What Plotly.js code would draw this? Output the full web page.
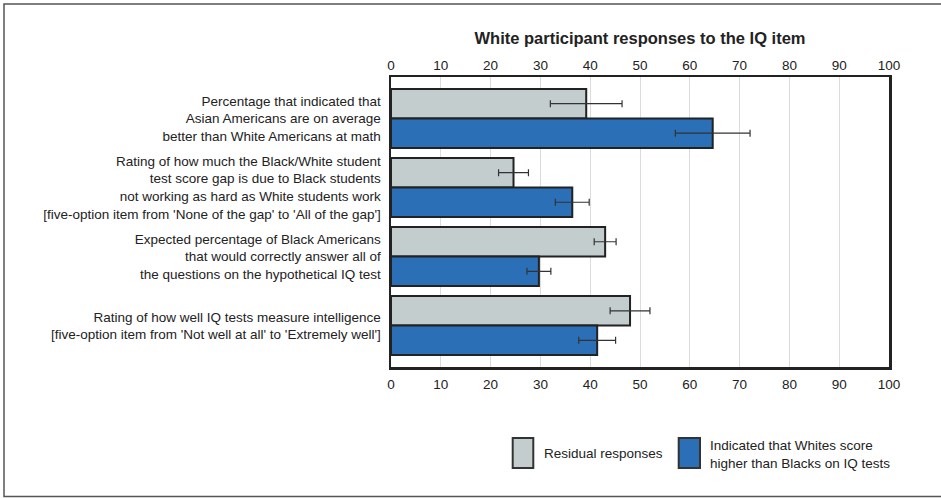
<!DOCTYPE html>
<html>
<head>
<meta charset="utf-8">
<script src="https://cdn.plot.ly/plotly-3.0.1.min.js"></script>
<style>html,body{margin:0;padding:0;background:#fff;}#chart{width:941px;height:498px;}</style>
</head>
<body>
<div id="chart"></div>
<script>
// ---- data ----
const categories = [
  "Percentage that indicated that<br>Asian Americans are on average<br>better than White Americans at math",
  "Rating of how much the Black/White student<br>test score gap is due to Black students<br>not working as hard as White students work<br>[five-option item from 'None of the gap' to 'All of the gap']",
  "Expected percentage of Black Americans<br>that would correctly answer all of<br>the questions on the hypothetical IQ test",
  "Rating of how well IQ tests measure intelligence<br>[five-option item from 'Not well at all' to 'Extremely well']"
];
const residualValues = [39.2, 24.6, 43.0, 48.0];
const residualErrors = [7.2, 3.0, 2.2, 4.0];
const whitesHigherValues = [64.6, 36.4, 29.7, 41.4];
const whitesHigherErrors = [7.5, 3.4, 2.4, 3.7];
const seriesNames = ["Residual responses", "Indicated that Whites score<br>higher than Blacks on IQ tests"];
const tickValues = [0, 10, 20, 30, 40, 50, 60, 70, 80, 90, 100];
const chartTitle = "White participant responses to the IQ item";

const grayFill = "#c3cdcd";
const blueFill = "#2b6fb6";
const outline = "#222222";
const font = "Liberation Sans, Arial, sans-serif";
const fs = 13.5;

const errStyle = {type: "data", visible: true, color: "#333", thickness: 1.2, width: 3.5};

const traces = [
  {
    type: "bar", orientation: "h", name: seriesNames[0],
    y: categories, x: residualValues,
    error_x: Object.assign({array: residualErrors}, errStyle),
    marker: {color: grayFill, line: {color: outline, width: 2}},
    hoverinfo: "x"
  },
  {
    type: "bar", orientation: "h", name: seriesNames[1],
    y: categories, x: whitesHigherValues,
    error_x: Object.assign({array: whitesHigherErrors}, errStyle),
    marker: {color: blueFill, line: {color: outline, width: 2}},
    hoverinfo: "x"
  },
  {
    type: "scatter", mode: "none", x: [0, 100], y: [categories[0], categories[0]],
    xaxis: "x2", yaxis: "y", hoverinfo: "skip", showlegend: false
  }
];

// paper-coordinate helpers for legend + outer frame
const L = 391, R = 52, T = 77, B = 131, W = 941, H = 498;
const pw = W - L - R, ph = H - T - B;
const px = v => (v - L) / pw;
const py = v => (H - B - v) / ph;

const xCommon = {
  range: [0, 100], tickvals: tickValues, ticktext: tickValues.map(String),
  tickfont: {family: font, size: fs, color: "#222"},
  ticks: "outside", tickcolor: "rgba(0,0,0,0)",
  zeroline: false, fixedrange: true
};

const layout = {
  width: W, height: H,
  margin: {l: L, r: R, t: T, b: B, pad: 0},
  paper_bgcolor: "#fff", plot_bgcolor: "#fff",
  font: {family: font, size: fs, color: "#222"},
  title: {text: "<b>" + chartTitle + "</b>", font: {family: font, size: 16.5, color: "#222"},
          x: 0.5 * (L + (W - R)) / W, xanchor: "center", y: 1 - 38 / H, yanchor: "middle"},
  showlegend: false,
  barmode: "group", bargap: 0.145, bargroupgap: 0,
  xaxis: Object.assign({}, xCommon, {
    side: "bottom", ticklen: 3, showgrid: true, gridcolor: "#dcdcdc", gridwidth: 1,
    showline: true, mirror: true, linecolor: "#222", linewidth: 2.5
  }),
  xaxis2: Object.assign({}, xCommon, {
    side: "top", ticklen: 1, overlaying: "x", showgrid: false, showline: false, matches: "x"
  }),
  yaxis: {
    type: "category", range: [3.6, -0.6], autorange: false,
    tickfont: {family: font, size: fs, color: "#222"},
    ticks: "outside", ticklen: 5, tickcolor: "rgba(0,0,0,0)",
    showgrid: false, showline: true, linecolor: "#222", linewidth: 2.5, mirror: true,
    fixedrange: true
  },
  shapes: [
    {type: "rect", xref: "paper", yref: "paper", x0: px(4), x1: px(945), y0: py(496.5), y1: py(4),
     line: {color: "#555", width: 1.5}, fillcolor: "rgba(0,0,0,0)", layer: "below"},
    {type: "rect", xref: "paper", yref: "paper", x0: px(512.7), x1: px(533.3), y0: py(468), y1: py(438),
     line: {color: "#333", width: 2}, fillcolor: grayFill},
    {type: "rect", xref: "paper", yref: "paper", x0: px(678.7), x1: px(700), y0: py(468), y1: py(438),
     line: {color: "#333", width: 2}, fillcolor: blueFill}
  ],
  annotations: [
    {xref: "paper", yref: "paper", x: px(542), y: py(453), xanchor: "left", yanchor: "middle",
     text: seriesNames[0], showarrow: false, align: "left", font: {family: font, size: fs, color: "#222"}},
    {xref: "paper", yref: "paper", x: px(708), y: py(454), xanchor: "left", yanchor: "middle",
     text: seriesNames[1], showarrow: false, align: "left", font: {family: font, size: fs, color: "#222"}}
  ]
};

Plotly.newPlot("chart", traces, layout, {displayModeBar: false, staticPlot: true});
</script>
</body>
</html>
